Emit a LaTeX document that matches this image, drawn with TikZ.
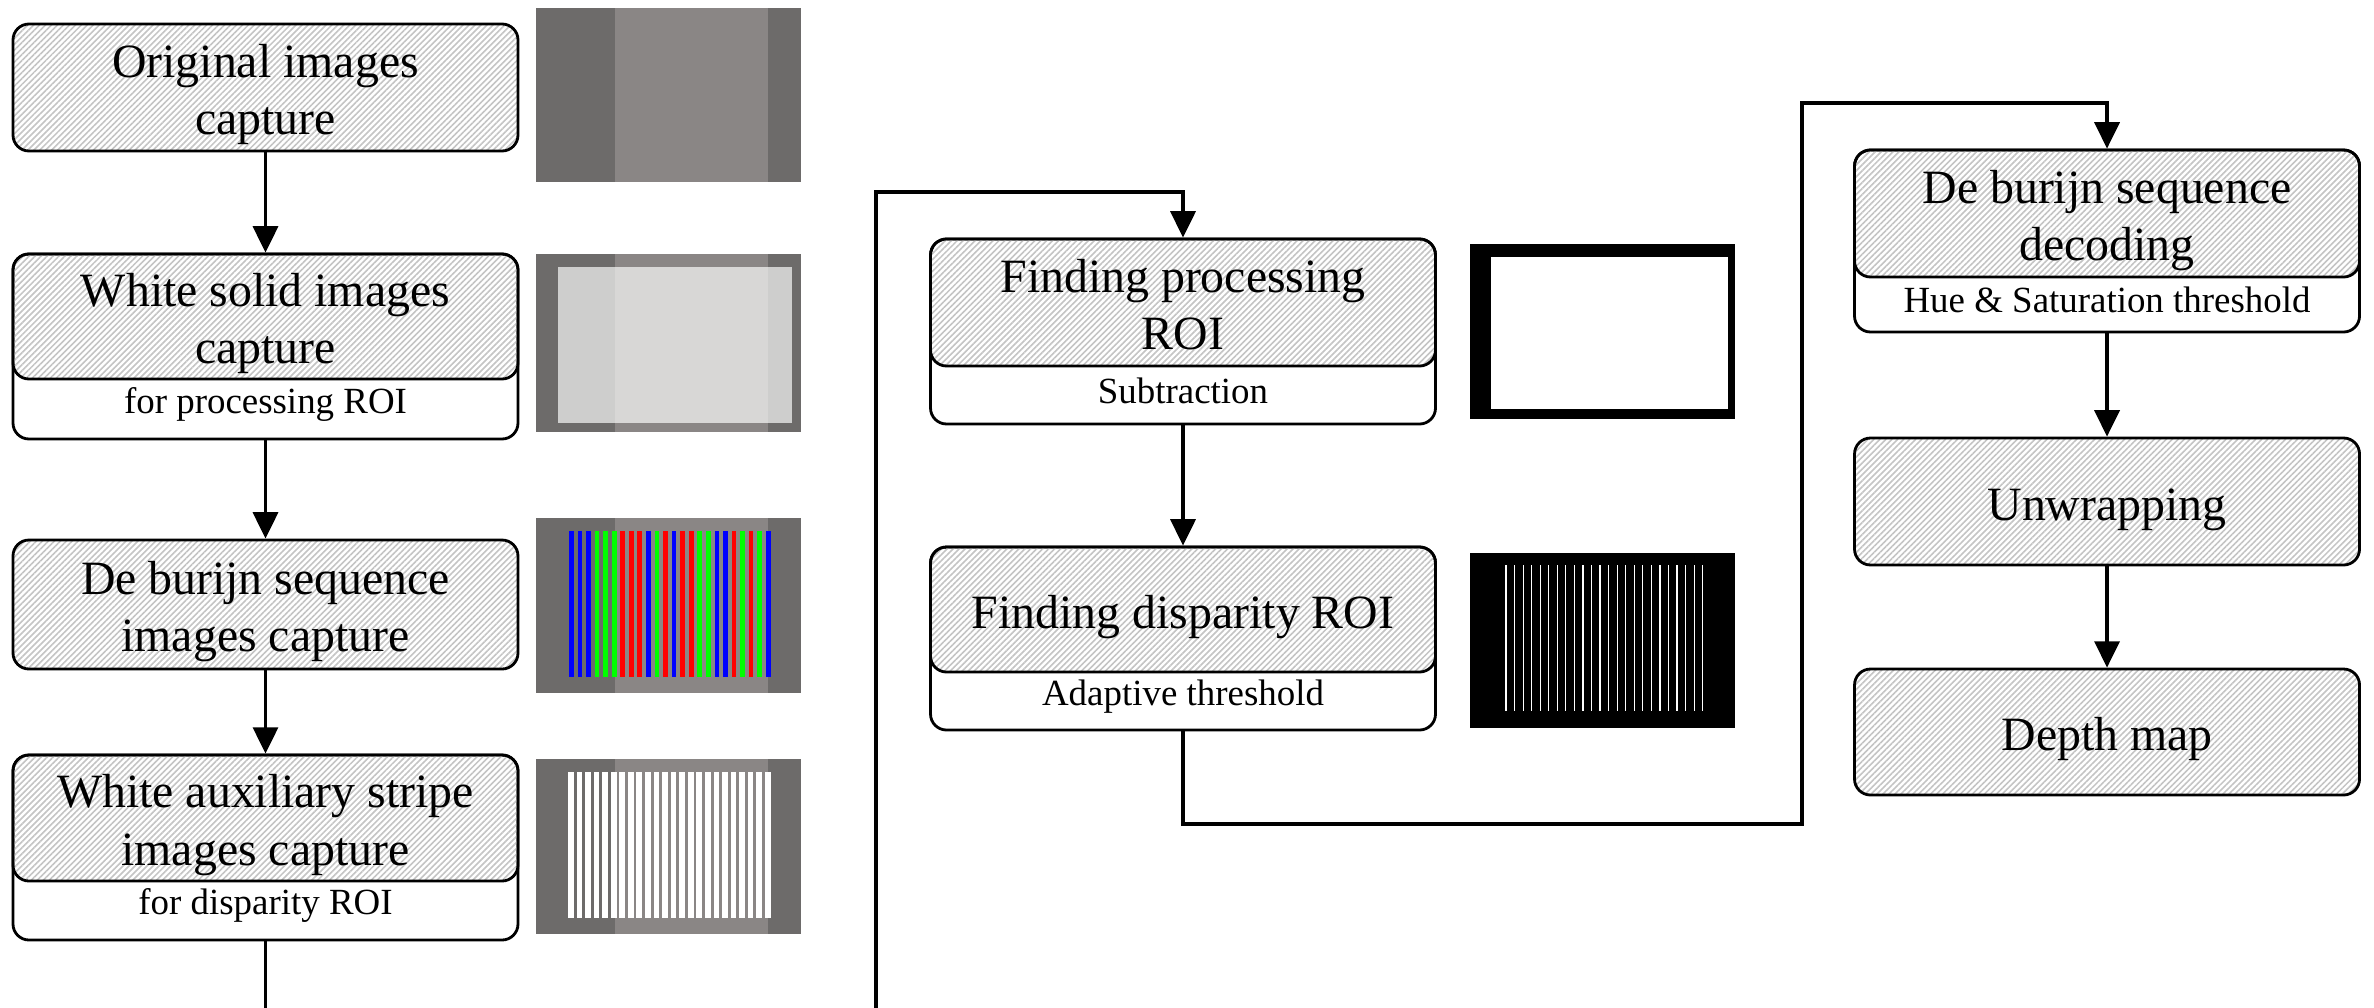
\documentclass[tikz,border=0pt]{standalone}
\usepackage{fontspec}
\setmainfont{Liberation Serif}
\usetikzlibrary{arrows.meta,positioning,patterns.meta,calc}
\definecolor{camdark}{HTML}{6D6B6A}
\definecolor{camlight}{HTML}{8A8685}
\definecolor{hatch}{HTML}{C4C4C4}
\definecolor{seqred}{HTML}{FF0000}
\definecolor{seqgreen}{HTML}{00FF00}
\definecolor{seqblue}{HTML}{0000FF}
\newcommand{\mainsize}{\fontsize{13.6}{16.4}\selectfont}
\newcommand{\subsize}{\fontsize{10.5}{12.6}\selectfont}
\newcommand{\stagetext}[1]{\raisebox{-2pt}[\height][\depth]{\begin{tabular}{@{}c@{}}#1\end{tabular}}}
\tikzset{
  outerbox/.style={draw=black,fill=white,line width=0.8pt,rounded corners=0.16cm,
                   minimum width=5.05cm,inner sep=0pt},
  stagebox/.style={draw=black,line width=0.8pt,rounded corners=0.16cm,
                   minimum width=5.05cm,inner sep=0pt,align=center,font=\mainsize,
                   pattern={Lines[angle=45,distance=1.2pt,line width=0.45pt]},
                   pattern color=hatch},
  subnote/.style={font=\subsize,inner sep=0pt,yshift=1.7pt},
  flow/.style={-{Triangle[length=7.5pt,width=7.1pt]},line width=1pt}
}

\begin{document}
\begin{tikzpicture}[x=1cm,y=1cm]
    \useasboundingbox (0,0) rectangle (23.74,-10.07);

    % capture column
    \node[stagebox,minimum height=1.27cm] (orig) at (2.655,-0.875)
      {\stagetext{Original images\\capture}};
    \node[outerbox,minimum height=1.85cm] (white) at (2.655,-3.465) {};
    \node[stagebox,minimum height=1.25cm,anchor=north] (whiteT) at (white.north)
      {\stagetext{White solid images\\capture}};
    \node[subnote] (whiteS) at ($(whiteT.south)!0.5!(white.south)$) {for processing ROI};
    \node[stagebox,minimum height=1.29cm] (debr) at (2.655,-6.045)
      {\stagetext{De burijn sequence\\images capture}};
    \node[outerbox,minimum height=1.85cm] (aux) at (2.655,-8.475) {};
    \node[stagebox,minimum height=1.26cm,anchor=north] (auxT) at (aux.north)
      {\stagetext{White auxiliary stripe\\images capture}};
    \node[subnote] (auxS) at ($(auxT.south)!0.5!(aux.south)$) {for disparity ROI};

    % ROI column
    \node[outerbox,minimum height=1.85cm] (froi) at (11.83,-3.315) {};
    \node[stagebox,minimum height=1.27cm,anchor=north] (froiT) at (froi.north)
      {\stagetext{Finding processing\\ROI}};
    \node[subnote] (froiS) at ($(froiT.south)!0.5!(froi.south)$) {Subtraction};
    \node[outerbox,minimum height=1.83cm] (droi) at (11.83,-6.385) {};
    \node[stagebox,minimum height=1.25cm,anchor=north] (droiT) at (droi.north)
      {\stagetext{Finding disparity ROI}};
    \node[subnote] (droiS) at ($(droiT.south)!0.5!(droi.south)$) {Adaptive threshold};

    % decoding column
    \node[outerbox,minimum height=1.82cm] (dec) at (21.07,-2.41) {};
    \node[stagebox,minimum height=1.27cm,anchor=north] (decT) at (dec.north)
      {\stagetext{De burijn sequence\\decoding}};
    \node[subnote] (decS) at ($(decT.south)!0.5!(dec.south)$) {Hue \& Saturation threshold};
    \node[stagebox,minimum height=1.27cm] (unwrap) at (21.07,-5.015) {\stagetext{Unwrapping}};
    \node[stagebox,minimum height=1.26cm] (depth) at (21.07,-7.32) {\stagetext{Depth map}};

    % connectors
    \coordinate (loopA) at (8.76,-10.6);
    \coordinate (loopB) at (8.76,-1.92);
    \coordinate (loopC) at (18.02,-8.24);
    \coordinate (loopD) at (18.02,-1.03);
    \draw[flow] (orig.south) -- (white.north);
    \draw[flow] (white.south) -- (debr.north);
    \draw[flow] (debr.south) -- (aux.north);
    \draw[flow] (aux.south) |- (loopA) -- (loopB) -| (froi.north);
    \draw[flow] (froi.south) -- (droi.north);
    \draw[flow] (droi.south) |- (loopC) -- (loopD) -| (dec.north);
    \draw[flow] (dec.south) -- (unwrap.north);
    \draw[flow] (unwrap.south) -- (depth.north);

    % camera shots
    \foreach \yt/\yb in {0.08/1.82,2.54/4.32,5.18/6.93,7.59/9.34}{
      \fill[camdark] (5.36,-\yt) rectangle (8.01,-\yb);
      \fill[camlight] (6.15,-\yt) rectangle (7.68,-\yb);
    }
    \fill[white,opacity=0.67] (5.58,-2.67) rectangle (7.92,-4.23);
    \foreach \c [count=\i from 0] in {seqblue,seqblue,seqblue,seqgreen,seqgreen,seqgreen,
        seqred,seqred,seqred,seqblue,seqgreen,seqred,seqblue,seqred,seqred,seqgreen,
        seqgreen,seqblue,seqblue,seqred,seqgreen,seqred,seqgreen,seqblue}{
      \fill[\c] (5.69+\i*0.0856,-5.31) rectangle ++(0.047,-1.46);
      \fill[white] (5.68+\i*0.0856,-7.72) rectangle ++(0.057,-1.46);
    }

    % processed shots
    \fill[black] (14.70,-2.44) rectangle (17.35,-4.19);
    \fill[white] (14.91,-2.57) rectangle (17.28,-4.09);
    \fill[black] (14.70,-5.53) rectangle (17.35,-7.28);
    \foreach \i in {0,...,23}{
      \draw[white,line width=0.35pt] (15.06+\i*0.0855,-5.65) -- ++(0,-1.46);
    }
  \end{tikzpicture}
\end{document}
